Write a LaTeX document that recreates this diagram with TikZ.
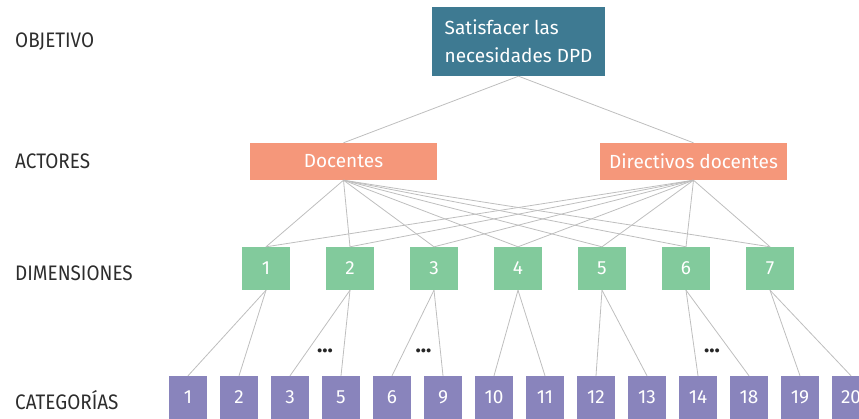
\documentclass[tikz,border=0pt]{standalone}
\usepackage{fontspec}
\setmainfont{Fira Sans}
\newfontfamily\labfont{Fira Sans}[FakeStretch=0.9]
\definecolor{objc}{RGB}{62,122,146}
\definecolor{actc}{RGB}{245,151,122}
\definecolor{dimc}{RGB}{130,202,156}
\definecolor{catc}{RGB}{137,132,188}
\definecolor{linec}{RGB}{190,190,190}
\definecolor{labc}{RGB}{45,45,45}
\begin{document}
\begin{tikzpicture}[x=1pt,y=-1pt,
  box/.style={inner sep=0pt,text=white,font=\fontsize{19}{28}\selectfont},
  objbox/.style={box,fill=objc,minimum width=173pt,minimum height=69pt,align=left},
  actbox/.style={box,fill=actc,minimum width=187pt,minimum height=37pt},
  dimbox/.style={box,fill=dimc,minimum width=48pt,minimum height=43pt},
  catbox/.style={box,fill=catc,minimum width=38pt,minimum height=43pt},
  lab/.style={anchor=base west,inner sep=0pt,text=labc,font=\labfont\fontsize{21}{24}\selectfont},
  conn/.style={draw=linec,line width=0.8pt},
  dots/.style={inner sep=0pt,text=black!85,font=\fontsize{22}{24}\selectfont\bfseries}]
\useasboundingbox (0,0) rectangle (859,418);
\clip (0,0) rectangle (859,418);
% labels
\node[lab] (l1) at (15,47.3) {OBJETIVO};
\node[lab] (l2) at (15,168) {ACTORES};
\node[lab] (l3) at (15,280.7) {DIMENSIONES};
\node[lab] (l4) at (15,409) {CATEGORÍAS};
% boxes
\node[objbox] (obj) at (518.5,41.5) {Satisfacer las\\necesidades DPD};
\node[actbox] (doc) at (343.5,161.5) {Docentes};
\node[actbox] (dir) at (693.5,161.5) {Directivos docentes};
\foreach \i in {1,...,7} {
  \node[dimbox] (d\i) at ({266+84*(\i-1)},268.5) {\i};
}
\foreach \n [count=\k from 0] in {1,2,3,5,6,9,10,11,12,13,14,18,19,20} {
  \node[catbox] (c\k) at ({188+51*\k},397.5) {\n};
}
% connectors
\draw[conn] (obj.south) -- (doc.north);
\draw[conn] (obj.south) -- (dir.north);
\foreach \i in {1,...,7} {
  \draw[conn] (doc.south) -- (d\i.north);
  \draw[conn] (dir.south) -- (d\i.north);
}
\foreach \i/\a/\b in {1/0/1,2/2/3,3/4/5,4/6/7,5/8/9,6/10/11,7/12/13} {
  \draw[conn] (d\i.south) -- (c\a.north);
  \draw[conn] (d\i.south) -- (c\b.north);
}
% dots
\node[dots] (e1) at (325,351) {...};
\node[dots] (e2) at (423.5,351) {...};
\node[dots] (e3) at (712,351) {...};
\end{tikzpicture}
\end{document}
